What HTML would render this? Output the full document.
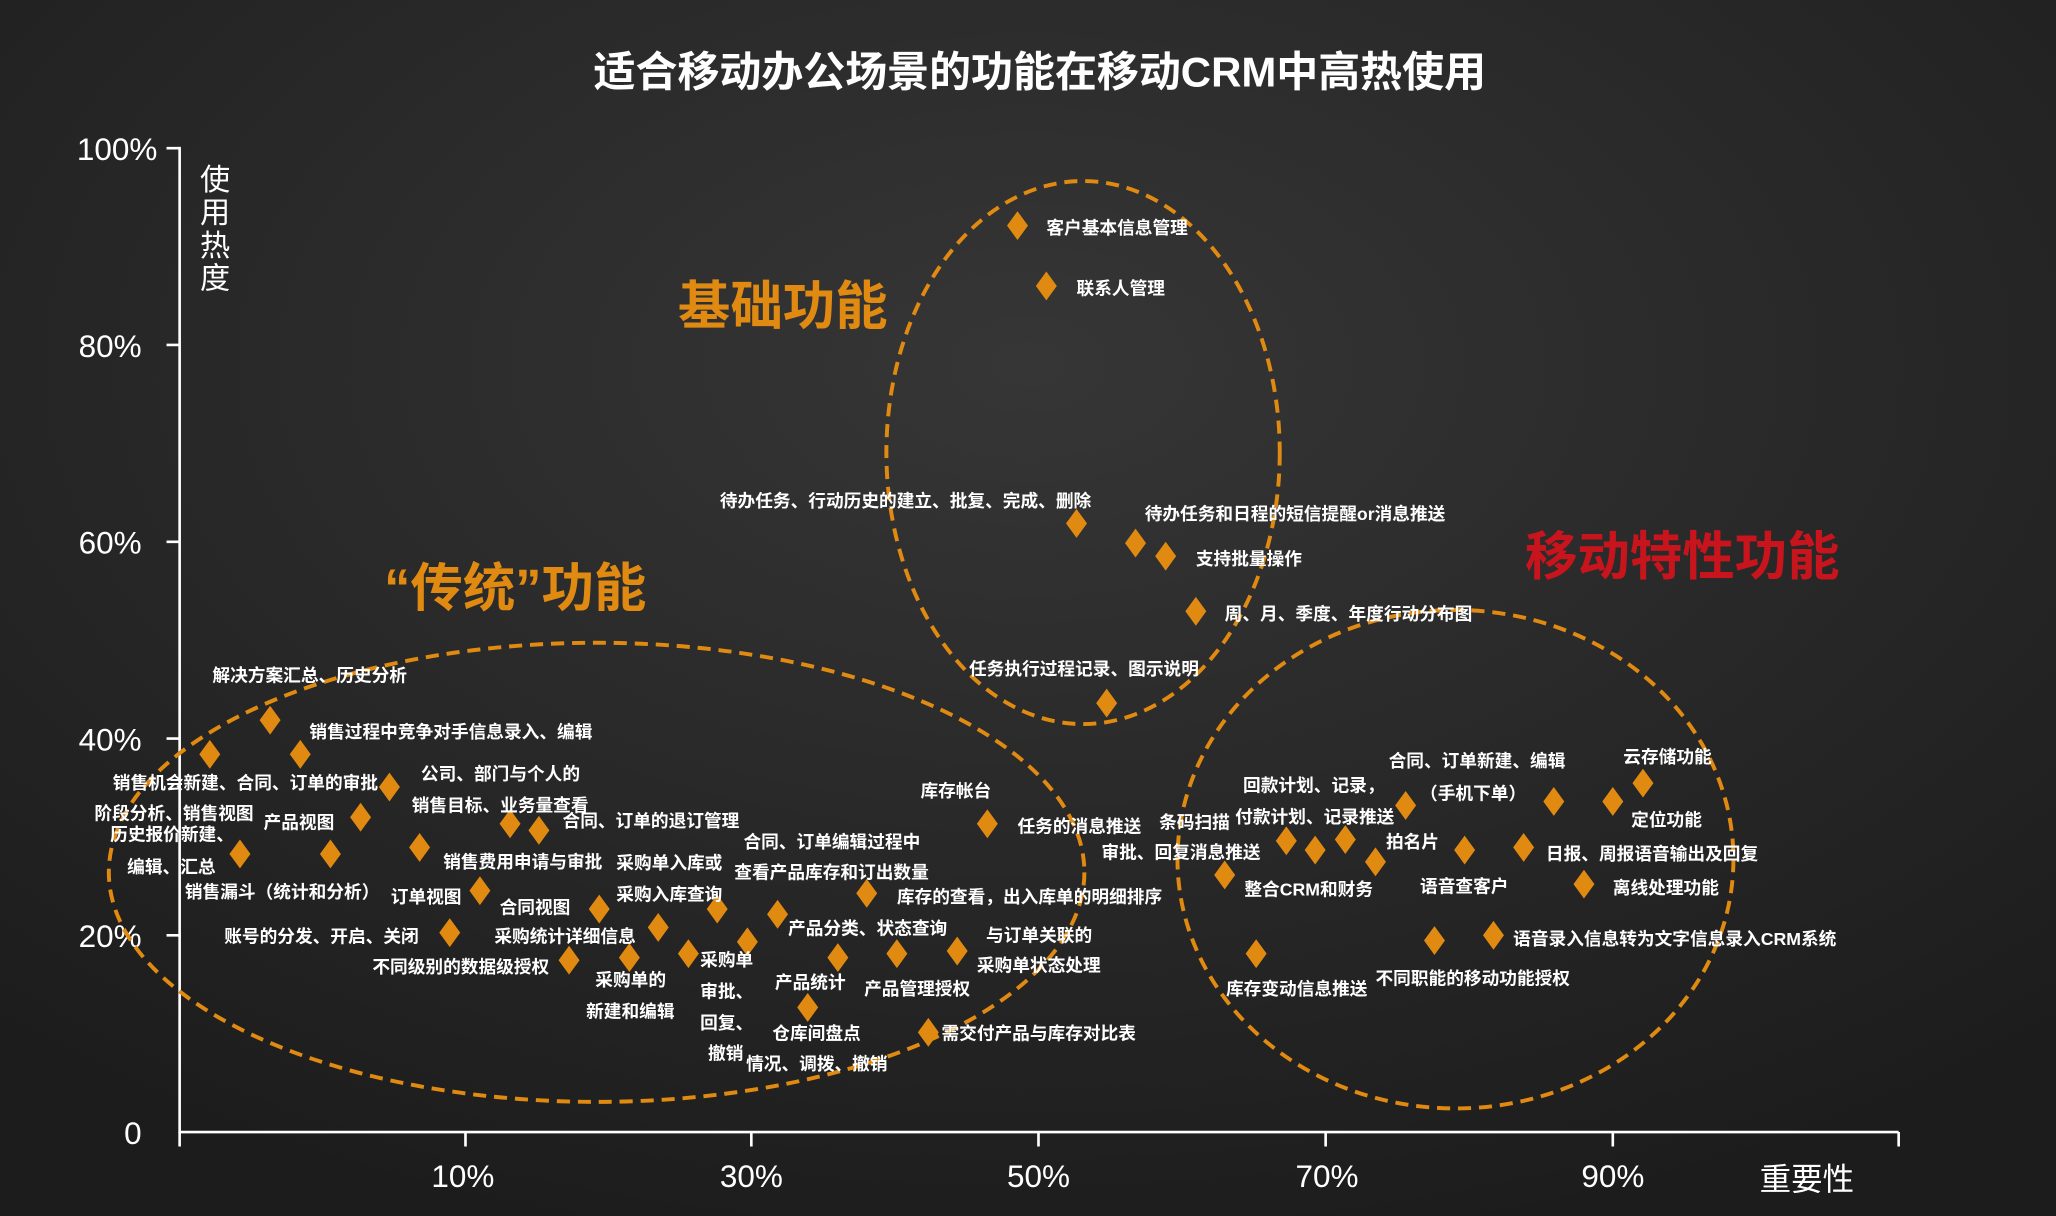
<!DOCTYPE html>
<html><head><meta charset="utf-8"><style>
html,body{margin:0;padding:0;background:#222;}
svg{display:block}
text{font-family:"Liberation Sans","Noto Sans CJK SC",sans-serif;fill:#fff;}
.l{font-size:13.5px;font-weight:bold;dominant-baseline:central}
</style></head><body>
<svg width="2056" height="1216" viewBox="0 0 1568 927" preserveAspectRatio="none">
<defs>
<radialGradient id="bg" cx="50%" cy="30%" r="75%">
<stop offset="0" stop-color="#363636"/><stop offset="1" stop-color="#1c1c1c"/>
</radialGradient>
<path id="d" d="M0,-11 L8,0 L0,11 L-8,0Z" fill="#e08a12"/>
</defs>
<rect width="1568" height="927" fill="url(#bg)"/>
<text x="793" y="66" text-anchor="middle" style="font-size:32px;font-weight:bold">适合移动办公场景的功能在移动CRM中高热使用</text>
<g stroke="#fff" stroke-width="2" fill="none">
<path d="M137,112 V863 H1448"/>
<path d="M127,113H137M127,263H137M127,413H137M127,563H137M127,713H137"/>
<path d="M137,863V874M355,863V874M573,863V874M792,863V874M1011,863V874M1230,863V874M1448,863V874"/>
</g>
<g style="font-size:24px" text-anchor="end">
<text x="120" y="122">100%</text><text x="108" y="272">80%</text><text x="108" y="422">60%</text><text x="108" y="572">40%</text><text x="108" y="722">20%</text><text x="108" y="872">0</text>
</g>
<g style="font-size:24px" text-anchor="middle">
<text x="353" y="905">10%</text><text x="573" y="905">30%</text><text x="792" y="905">50%</text><text x="1012" y="905">70%</text><text x="1230" y="905">90%</text>
</g>
<text x="1378" y="907" text-anchor="middle" style="font-size:24px">重要性</text>
<g style="font-size:23px" text-anchor="middle"><text x="164" y="145">使</text><text x="164" y="170">用</text><text x="164" y="195">热</text><text x="164" y="220">度</text></g>
<g fill="none" stroke="#e08a12" stroke-width="3" stroke-dasharray="10,6">
<ellipse cx="455" cy="665" rx="372" ry="175"/>
<ellipse cx="826" cy="345" rx="150" ry="207"/>
<ellipse cx="1110" cy="655" rx="212" ry="190"/>
</g>
<text x="517" y="247" style="font-size:40px;font-weight:bold;fill:#e08a12">基础功能</text>
<text x="293" y="462" style="font-size:40px;font-weight:bold;fill:#e08a12">“传统”功能</text>
<text x="1163" y="438" style="font-size:40px;font-weight:bold;fill:#c8141c">移动特性功能</text>
<g>
<use href="#d" x="776" y="172"/><use href="#d" x="798" y="218"/><use href="#d" x="821" y="399"/><use href="#d" x="866" y="414"/><use href="#d" x="889" y="424"/><use href="#d" x="912" y="466"/><use href="#d" x="844" y="536"/>
<use href="#d" x="160" y="575"/><use href="#d" x="206" y="549"/><use href="#d" x="229" y="575"/><use href="#d" x="297" y="600"/><use href="#d" x="275" y="623"/><use href="#d" x="183" y="651"/><use href="#d" x="252" y="651"/><use href="#d" x="320" y="646"/><use href="#d" x="389" y="628"/><use href="#d" x="411" y="633"/><use href="#d" x="366" y="679"/><use href="#d" x="343" y="711"/><use href="#d" x="457" y="693"/><use href="#d" x="434" y="732"/><use href="#d" x="480" y="730"/><use href="#d" x="502" y="707"/><use href="#d" x="525" y="727"/><use href="#d" x="547" y="693"/><use href="#d" x="570" y="718"/><use href="#d" x="593" y="697"/><use href="#d" x="616" y="768"/><use href="#d" x="639" y="730"/><use href="#d" x="661" y="681"/><use href="#d" x="684" y="727"/><use href="#d" x="730" y="725"/><use href="#d" x="708" y="787"/><use href="#d" x="753" y="628"/>
<use href="#d" x="934" y="667"/><use href="#d" x="958" y="727"/><use href="#d" x="981" y="641"/><use href="#d" x="1003" y="648"/><use href="#d" x="1026" y="640"/><use href="#d" x="1049" y="657"/><use href="#d" x="1072" y="614"/><use href="#d" x="1117" y="648"/><use href="#d" x="1162" y="646"/><use href="#d" x="1185" y="611"/><use href="#d" x="1230" y="611"/><use href="#d" x="1253" y="597"/><use href="#d" x="1208" y="674"/><use href="#d" x="1094" y="717"/><use href="#d" x="1139" y="713"/>
</g>
<g class="l">
<text class="l" x="798" y="174">客户基本信息管理</text>
<text class="l" x="821" y="220">联系人管理</text>
<text class="l" x="549" y="382">待办任务、行动历史的建立、批复、完成、删除</text>
<text class="l" x="873" y="392">待办任务和日程的短信提醒or消息推送</text>
<text class="l" x="912" y="426">支持批量操作</text>
<text class="l" x="934" y="468">周、月、季度、年度行动分布图</text>
<text class="l" x="739" y="510">任务执行过程记录、图示说明</text>
<text class="l" x="162" y="515">解决方案汇总、历史分析</text>
<text class="l" x="236" y="558">销售过程中竞争对手信息录入、编辑</text>
<text class="l" x="321" y="590">公司、部门与个人的</text>
<text class="l" x="314" y="614">销售目标、业务量查看</text>
<text class="l" x="86" y="597">销售机会新建、合同、订单的审批</text>
<text class="l" x="201" y="627">产品视图</text>
<text class="l" x="72" y="620">阶段分析、销售视图</text>
<text class="l" x="84" y="636">历史报价新建、</text>
<text class="l" x="97" y="661">编辑、汇总</text>
<text class="l" x="338" y="657">销售费用申请与审批</text>
<text class="l" x="429" y="626">合同、订单的退订管理</text>
<text class="l" x="141" y="680">销售漏斗（统计和分析）</text>
<text class="l" x="298" y="684">订单视图</text>
<text class="l" x="171" y="714">账号的分发、开启、关闭</text>
<text class="l" x="381" y="692">合同视图</text>
<text class="l" x="284" y="737">不同级别的数据级授权</text>
<text class="l" x="454" y="747">采购单的</text>
<text class="l" x="447" y="771">新建和编辑</text>
<text class="l" x="377" y="714">采购统计详细信息</text>
<text class="l" x="470" y="658">采购单入库或</text>
<text class="l" x="470" y="682">采购入库查询</text>
<text class="l" x="534" y="732">采购单</text>
<text class="l" x="534" y="756">审批、</text>
<text class="l" x="534" y="780">回复、</text>
<text class="l" x="540" y="803">撤销</text>
<text class="l" x="601" y="708">产品分类、状态查询</text>
<text class="l" x="589" y="788">仓库间盘点</text>
<text class="l" x="569" y="811">情况、调拨、撤销</text>
<text class="l" x="591" y="749">产品统计</text>
<text class="l" x="567" y="642">合同、订单编辑过程中</text>
<text class="l" x="560" y="665">查看产品库存和订出数量</text>
<text class="l" x="684" y="684">库存的查看，出入库单的明细排序</text>
<text class="l" x="659" y="754">产品管理授权</text>
<text class="l" x="752" y="713">与订单关联的</text>
<text class="l" x="745" y="736">采购单状态处理</text>
<text class="l" x="718" y="788">需交付产品与库存对比表</text>
<text class="l" x="702" y="603">库存帐台</text>
<text class="l" x="776" y="630">任务的消息推送</text>
<text class="l" x="949" y="678">整合CRM和财务</text>
<text class="l" x="935" y="754">库存变动信息推送</text>
<text class="l" x="884" y="627">条码扫描</text>
<text class="l" x="840" y="650">审批、回复消息推送</text>
<text class="l" x="948" y="599">回款计划、记录，</text>
<text class="l" x="942" y="623">付款计划、记录推送</text>
<text class="l" x="1059" y="580">合同、订单新建、编辑</text>
<text class="l" x="1083" y="605">（手机下单）</text>
<text class="l" x="1057" y="642">拍名片</text>
<text class="l" x="1083" y="676">语音查客户</text>
<text class="l" x="1179" y="651">日报、周报语音输出及回复</text>
<text class="l" x="1244" y="625">定位功能</text>
<text class="l" x="1238" y="577">云存储功能</text>
<text class="l" x="1230" y="677">离线处理功能</text>
<text class="l" x="1049" y="746">不同职能的移动功能授权</text>
<text class="l" x="1154" y="716">语音录入信息转为文字信息录入CRM系统</text>
</g>
</svg>
</body></html>
